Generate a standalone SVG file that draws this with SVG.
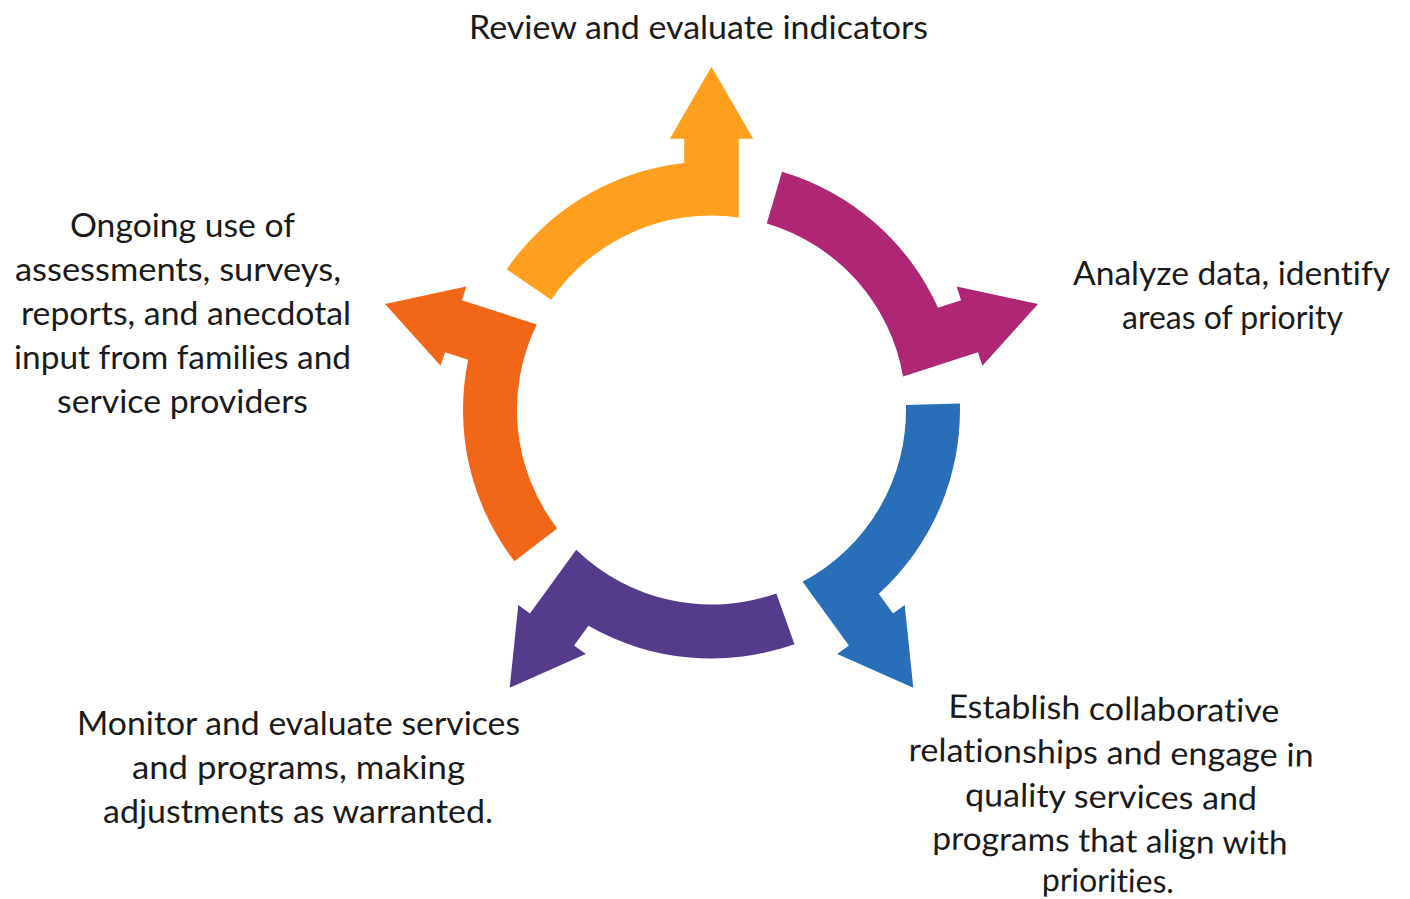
<svg xmlns="http://www.w3.org/2000/svg" xmlns:xlink="http://www.w3.org/1999/xlink" width="1410" height="899" viewBox="0 0 1410 899">
  <style>
    .lbl { font-family: Lato, "Open Sans", "Liberation Sans", sans-serif; font-size: 32.5px; font-weight: 400; fill: #1a1a1a; text-anchor: middle; font-variant-ligatures: none; }
  </style>
  <defs>
    <path id="seg" d="M -204.8 -140.7 A 248.5 248.5 0 0 1 -27.3 -247.0 L -27.3 -271.3 L -41.7 -271.3 L 0 -343.3 L 41.7 -271.3 L 27.3 -271.3 L 27.3 -192.6 A 194.5 194.5 0 0 0 -160.3 -110.2 Z"/>
  </defs>
  <rect width="1410" height="899" fill="#ffffff"/>

  <g id="connectors">
    <use xlink:href="#seg" href="#seg" transform="translate(711.5,410)" fill="#FEA01E"/>
    <use xlink:href="#seg" href="#seg" transform="translate(711.5,410) rotate(72)" fill="#AF2675"/>
    <use xlink:href="#seg" href="#seg" transform="translate(711.5,410) rotate(144)" fill="#286EB9"/>
    <use xlink:href="#seg" href="#seg" transform="translate(711.5,410) rotate(216)" fill="#553B8B"/>
    <use xlink:href="#seg" href="#seg" transform="translate(711.5,410) rotate(288)" fill="#F26618"/>
  </g>

  <g id="node-review">
    <text class="lbl" x="698.5" y="39" textLength="459" lengthAdjust="spacingAndGlyphs">Review and evaluate indicators</text>
  </g>

  <g id="node-analyze">
    <text class="lbl" x="1231.5" y="285" textLength="317" lengthAdjust="spacingAndGlyphs">Analyze data, identify</text>
    <text class="lbl" x="1232.5" y="329" textLength="221" lengthAdjust="spacingAndGlyphs">areas of priority</text>
  </g>

  <g id="node-establish" transform="rotate(0.8 1111 805)">
    <text class="lbl" x="1112.5" y="720" textLength="331" lengthAdjust="spacingAndGlyphs">Establish collaborative</text>
    <text class="lbl" x="1110.5" y="764" textLength="405" lengthAdjust="spacingAndGlyphs">relationships and engage in</text>
    <text class="lbl" x="1111" y="808" textLength="292" lengthAdjust="spacingAndGlyphs">quality services and</text>
    <text class="lbl" x="1110.5" y="852" textLength="355" lengthAdjust="spacingAndGlyphs">programs that align with</text>
    <text class="lbl" x="1109" y="892" textLength="132" lengthAdjust="spacingAndGlyphs">priorities.</text>
  </g>

  <g id="node-monitor">
    <text class="lbl" x="298.5" y="735" textLength="443" lengthAdjust="spacingAndGlyphs">Monitor and evaluate services</text>
    <text class="lbl" x="298.5" y="779" textLength="333" lengthAdjust="spacingAndGlyphs">and programs, making</text>
    <text class="lbl" x="298" y="823" textLength="390" lengthAdjust="spacingAndGlyphs">adjustments as warranted.</text>
  </g>

  <g id="node-ongoing">
    <text class="lbl" x="182.5" y="237" textLength="225" lengthAdjust="spacingAndGlyphs">Ongoing use of</text>
    <text class="lbl" x="178" y="281" textLength="326" lengthAdjust="spacingAndGlyphs">assessments, surveys,</text>
    <text class="lbl" x="186" y="325" textLength="330" lengthAdjust="spacingAndGlyphs">reports, and anecdotal</text>
    <text class="lbl" x="182.5" y="369" textLength="337" lengthAdjust="spacingAndGlyphs">input from families and</text>
    <text class="lbl" x="182.5" y="413" textLength="251" lengthAdjust="spacingAndGlyphs">service providers</text>
  </g>
</svg>
